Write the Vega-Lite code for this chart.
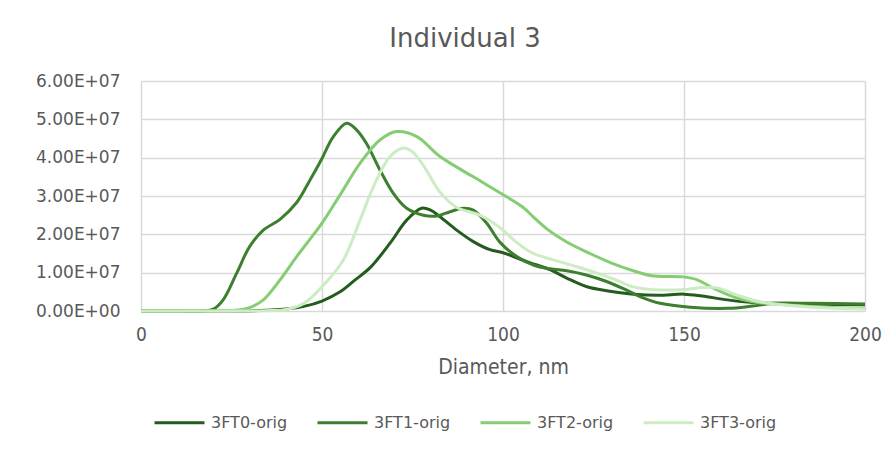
{
  "$schema": "https://vega.github.io/schema/vega-lite/v6.json",
  "width": 724,
  "height": 230,
  "autosize": "none",
  "padding": {"left": 141, "top": 81, "right": 30, "bottom": 139},
  "background": "white",
  "title": {
    "text": "Individual 3",
    "font": "DejaVu Sans",
    "fontSize": 26,
    "fontWeight": "normal",
    "color": "#595959",
    "anchor": "middle",
    "frame": "group",
    "dx": -38,
    "offset": 20
  },
  "data": {
    "values": [
      {"s": "3FT0-orig", "d": 0, "v": 0}, {"s": "3FT0-orig", "d": 10, "v": 0}, {"s": "3FT0-orig", "d": 20, "v": 0}, {"s": "3FT0-orig", "d": 30, "v": 0},
      {"s": "3FT0-orig", "d": 35, "v": 200000}, {"s": "3FT0-orig", "d": 40, "v": 500000}, {"s": "3FT0-orig", "d": 45, "v": 1200000}, {"s": "3FT0-orig", "d": 50, "v": 2600000},
      {"s": "3FT0-orig", "d": 55, "v": 5000000}, {"s": "3FT0-orig", "d": 59, "v": 8000000}, {"s": "3FT0-orig", "d": 63.3, "v": 11300000}, {"s": "3FT0-orig", "d": 68.8, "v": 17700000},
      {"s": "3FT0-orig", "d": 73.4, "v": 23700000}, {"s": "3FT0-orig", "d": 77.5, "v": 26800000}, {"s": "3FT0-orig", "d": 80, "v": 26300000}, {"s": "3FT0-orig", "d": 82.6, "v": 24600000},
      {"s": "3FT0-orig", "d": 87.2, "v": 21100000}, {"s": "3FT0-orig", "d": 91.8, "v": 18100000}, {"s": "3FT0-orig", "d": 96.4, "v": 16000000}, {"s": "3FT0-orig", "d": 100, "v": 15200000},
      {"s": "3FT0-orig", "d": 106.5, "v": 12900000}, {"s": "3FT0-orig", "d": 113, "v": 10800000}, {"s": "3FT0-orig", "d": 117.6, "v": 8600000}, {"s": "3FT0-orig", "d": 123, "v": 6400000},
      {"s": "3FT0-orig", "d": 128.6, "v": 5300000}, {"s": "3FT0-orig", "d": 136, "v": 4400000}, {"s": "3FT0-orig", "d": 143, "v": 4100000}, {"s": "3FT0-orig", "d": 150, "v": 4400000},
      {"s": "3FT0-orig", "d": 155, "v": 3900000}, {"s": "3FT0-orig", "d": 162, "v": 2900000}, {"s": "3FT0-orig", "d": 169, "v": 2200000}, {"s": "3FT0-orig", "d": 175, "v": 2000000},
      {"s": "3FT0-orig", "d": 185, "v": 1800000}, {"s": "3FT0-orig", "d": 200, "v": 1600000},

      {"s": "3FT1-orig", "d": 0, "v": 0}, {"s": "3FT1-orig", "d": 10, "v": 0}, {"s": "3FT1-orig", "d": 17, "v": 0}, {"s": "3FT1-orig", "d": 20, "v": 500000},
      {"s": "3FT1-orig", "d": 22.7, "v": 2900000}, {"s": "3FT1-orig", "d": 26.4, "v": 9800000}, {"s": "3FT1-orig", "d": 30, "v": 16800000}, {"s": "3FT1-orig", "d": 33.8, "v": 21100000},
      {"s": "3FT1-orig", "d": 38.4, "v": 23900000}, {"s": "3FT1-orig", "d": 43, "v": 28300000}, {"s": "3FT1-orig", "d": 46.7, "v": 34200000}, {"s": "3FT1-orig", "d": 50, "v": 39800000},
      {"s": "3FT1-orig", "d": 53, "v": 45300000}, {"s": "3FT1-orig", "d": 56.8, "v": 49000000}, {"s": "3FT1-orig", "d": 59.6, "v": 47200000}, {"s": "3FT1-orig", "d": 62.3, "v": 43700000},
      {"s": "3FT1-orig", "d": 66, "v": 36800000}, {"s": "3FT1-orig", "d": 69.7, "v": 30700000}, {"s": "3FT1-orig", "d": 73.4, "v": 26800000}, {"s": "3FT1-orig", "d": 78, "v": 25000000},
      {"s": "3FT1-orig", "d": 81.7, "v": 24800000}, {"s": "3FT1-orig", "d": 85.4, "v": 25900000}, {"s": "3FT1-orig", "d": 89, "v": 26800000}, {"s": "3FT1-orig", "d": 91.8, "v": 26300000},
      {"s": "3FT1-orig", "d": 95.5, "v": 22900000}, {"s": "3FT1-orig", "d": 99.2, "v": 17900000}, {"s": "3FT1-orig", "d": 103.8, "v": 14200000}, {"s": "3FT1-orig", "d": 108.4, "v": 12000000},
      {"s": "3FT1-orig", "d": 113, "v": 11000000}, {"s": "3FT1-orig", "d": 117.6, "v": 10500000}, {"s": "3FT1-orig", "d": 123, "v": 9400000}, {"s": "3FT1-orig", "d": 128.6, "v": 7700000},
      {"s": "3FT1-orig", "d": 134, "v": 5500000}, {"s": "3FT1-orig", "d": 138, "v": 3700000}, {"s": "3FT1-orig", "d": 143.4, "v": 2000000}, {"s": "3FT1-orig", "d": 151.7, "v": 1000000},
      {"s": "3FT1-orig", "d": 162, "v": 700000}, {"s": "3FT1-orig", "d": 169, "v": 1300000}, {"s": "3FT1-orig", "d": 175, "v": 2000000}, {"s": "3FT1-orig", "d": 185, "v": 2000000},
      {"s": "3FT1-orig", "d": 200, "v": 1800000},

      {"s": "3FT2-orig", "d": 0, "v": 0}, {"s": "3FT2-orig", "d": 10, "v": 0}, {"s": "3FT2-orig", "d": 20, "v": 0}, {"s": "3FT2-orig", "d": 26, "v": 200000},
      {"s": "3FT2-orig", "d": 30, "v": 900000}, {"s": "3FT2-orig", "d": 33.8, "v": 2900000}, {"s": "3FT2-orig", "d": 38.4, "v": 8100000}, {"s": "3FT2-orig", "d": 43, "v": 14200000},
      {"s": "3FT2-orig", "d": 50, "v": 22900000}, {"s": "3FT2-orig", "d": 55, "v": 30300000}, {"s": "3FT2-orig", "d": 60.5, "v": 38500000}, {"s": "3FT2-orig", "d": 66, "v": 44600000},
      {"s": "3FT2-orig", "d": 70.6, "v": 46800000}, {"s": "3FT2-orig", "d": 76.2, "v": 45500000}, {"s": "3FT2-orig", "d": 82.6, "v": 40300000}, {"s": "3FT2-orig", "d": 91.8, "v": 35000000},
      {"s": "3FT2-orig", "d": 101, "v": 29800000}, {"s": "3FT2-orig", "d": 105.6, "v": 27000000}, {"s": "3FT2-orig", "d": 108.4, "v": 24500000}, {"s": "3FT2-orig", "d": 112, "v": 21500000},
      {"s": "3FT2-orig", "d": 117.6, "v": 18000000}, {"s": "3FT2-orig", "d": 124, "v": 15000000}, {"s": "3FT2-orig", "d": 130, "v": 12500000}, {"s": "3FT2-orig", "d": 136, "v": 10500000},
      {"s": "3FT2-orig", "d": 141, "v": 9200000}, {"s": "3FT2-orig", "d": 149.7, "v": 8900000}, {"s": "3FT2-orig", "d": 153.5, "v": 8200000}, {"s": "3FT2-orig", "d": 158, "v": 6000000},
      {"s": "3FT2-orig", "d": 163.6, "v": 3700000}, {"s": "3FT2-orig", "d": 169, "v": 2400000}, {"s": "3FT2-orig", "d": 175, "v": 1800000}, {"s": "3FT2-orig", "d": 185, "v": 1200000},
      {"s": "3FT2-orig", "d": 200, "v": 700000},

      {"s": "3FT3-orig", "d": 0, "v": 0}, {"s": "3FT3-orig", "d": 10, "v": 0}, {"s": "3FT3-orig", "d": 20, "v": 0}, {"s": "3FT3-orig", "d": 30, "v": 0},
      {"s": "3FT3-orig", "d": 36, "v": 100000}, {"s": "3FT3-orig", "d": 40, "v": 400000}, {"s": "3FT3-orig", "d": 45, "v": 2000000}, {"s": "3FT3-orig", "d": 50, "v": 6300000},
      {"s": "3FT3-orig", "d": 55.9, "v": 13300000}, {"s": "3FT3-orig", "d": 60.5, "v": 23700000}, {"s": "3FT3-orig", "d": 64.2, "v": 32400000}, {"s": "3FT3-orig", "d": 68.8, "v": 40300000},
      {"s": "3FT3-orig", "d": 72.5, "v": 42500000}, {"s": "3FT3-orig", "d": 75, "v": 41500000}, {"s": "3FT3-orig", "d": 78, "v": 38000000}, {"s": "3FT3-orig", "d": 82.6, "v": 31000000},
      {"s": "3FT3-orig", "d": 87.2, "v": 27000000}, {"s": "3FT3-orig", "d": 93.6, "v": 25000000}, {"s": "3FT3-orig", "d": 99.5, "v": 21500000}, {"s": "3FT3-orig", "d": 103, "v": 18500000},
      {"s": "3FT3-orig", "d": 108, "v": 15200000}, {"s": "3FT3-orig", "d": 117, "v": 12500000}, {"s": "3FT3-orig", "d": 125, "v": 10200000}, {"s": "3FT3-orig", "d": 131, "v": 8200000},
      {"s": "3FT3-orig", "d": 136, "v": 6300000}, {"s": "3FT3-orig", "d": 143, "v": 5500000}, {"s": "3FT3-orig", "d": 150, "v": 5600000}, {"s": "3FT3-orig", "d": 155, "v": 6100000},
      {"s": "3FT3-orig", "d": 159, "v": 6100000}, {"s": "3FT3-orig", "d": 164.5, "v": 4200000}, {"s": "3FT3-orig", "d": 171, "v": 2400000}, {"s": "3FT3-orig", "d": 180, "v": 1400000},
      {"s": "3FT3-orig", "d": 190, "v": 800000}, {"s": "3FT3-orig", "d": 200, "v": 500000}
    ]
  },
  "mark": {"type": "line", "interpolate": "catmull-rom", "strokeWidth": 3},
  "encoding": {
    "x": {
      "field": "d",
      "type": "quantitative",
      "scale": {"domain": [0, 200], "nice": false, "zero": false},
      "axis": {
        "values": [0, 50, 100, 150, 200],
        "title": "Diameter, nm",
        "grid": true,
        "gridColor": "#d9d9d9",
        "gridWidth": 1.5,
        "domain": false,
        "ticks": false,
        "labelFont": "DejaVu Sans Condensed, Liberation Sans Narrow, DejaVu Sans",
        "labelFontSize": 19,
        "labelColor": "#595959",
        "labelPadding": 14,
        "labelFlush": false,
        "titleFont": "DejaVu Sans Condensed, Liberation Sans Narrow, DejaVu Sans",
        "titleFontSize": 21,
        "titleFontWeight": "normal",
        "titleColor": "#595959",
        "titlePadding": 12
      }
    },
    "y": {
      "field": "v",
      "type": "quantitative",
      "scale": {"domain": [0, 60000000], "nice": false},
      "axis": {
        "values": [0, 10000000, 20000000, 30000000, 40000000, 50000000, 60000000],
        "title": null,
        "grid": true,
        "gridColor": "#d9d9d9",
        "gridWidth": 1.5,
        "domain": false,
        "ticks": false,
        "labelExpr": "datum.value == 0 ? '0.00E+00' : format(datum.value / 10000000, '.2f') + 'E+07'",
        "labelFont": "DejaVu Sans",
        "labelFontSize": 17,
        "labelColor": "#595959",
        "labelPadding": 21
      }
    },
    "color": {
      "field": "s",
      "type": "nominal",
      "scale": {
        "domain": ["3FT0-orig", "3FT1-orig", "3FT2-orig", "3FT3-orig"],
        "range": ["#245c1e", "#3d7f2f", "#85cd72", "#cdecc4"]
      },
      "legend": {
        "title": null,
        "orient": "none",
        "direction": "horizontal",
        "legendX": 12,
        "legendY": 315,
        "symbolType": "stroke",
        "symbolSize": 2500,
        "symbolStrokeWidth": 3,
        "labelFont": "DejaVu Sans",
        "labelFontSize": 16,
        "labelColor": "#595959",
        "labelOffset": 5,
        "labelLimit": 200,
        "columnPadding": 23
      }
    }
  },
  "config": {"view": {"stroke": null}}
}
